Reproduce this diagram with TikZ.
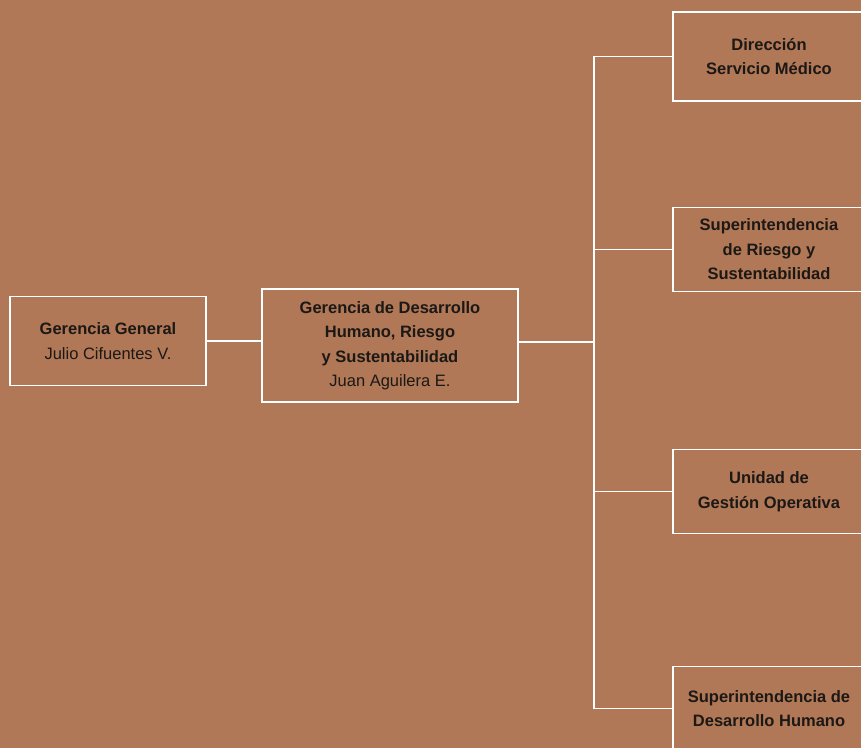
\documentclass[tikz,border=0pt]{standalone}
\usepackage{fontspec}
\setmainfont{Liberation Sans}
\usetikzlibrary{positioning}

\definecolor{bgbrown}{RGB}{176,120,86}
\definecolor{inkdark}{RGB}{28,24,22}

\begin{document}
\begin{tikzpicture}
      [
        x=1pt, y=-1pt,
        node distance = 0pt,
        OrgBox/.style={draw=white, line width=1.6pt, text=inkdark, align=center, inner sep=0pt,
          font=\fontsize{16.5}{24.5}\selectfont},
        SideBox/.style={OrgBox, minimum width=192pt, minimum height=84pt},
        Wire/.style={draw=white, line width=1.6pt},
      ]

      \fill [bgbrown] (0,0) rectangle (861,748);
      \useasboundingbox (0,0) rectangle (861,748);
      \clip (0,0) rectangle (861,748);

      \node [OrgBox, minimum width=196pt, minimum height=89pt] (gg) at (108,341)
        {\textbf{Gerencia General}\\Julio Cifuentes V.};
      \node [OrgBox, minimum width=256pt, minimum height=113pt] (gd) at (390,345.5)
        {\textbf{Gerencia de Desarrollo}\\\textbf{Humano, Riesgo}\\\textbf{y Sustentabilidad}\\Juan Aguilera E.};

      \coordinate (spine) at (594,342);

      \node [SideBox, minimum height=89pt] (dir) at (769,56.5) {\textbf{Dirección}\\\textbf{Servicio Médico}};
      \node [SideBox] (sup) at (769,249.5) {\textbf{Superintendencia}\\\textbf{de Riesgo y}\\\textbf{Sustentabilidad}};
      \node [SideBox] (uni) at (769,491.5) {\textbf{Unidad de}\\\textbf{Gestión Operativa}};
      \node [SideBox] (dh) at (769,708.5) {\textbf{Superintendencia de}\\\textbf{Desarrollo Humano}};

      \draw [Wire] (gg.east) -- (gg.east -| gd.west);
      \draw [Wire] (gd.east |- spine) -- (spine);
      \draw [Wire] (dir.west) -- (dir.west -| spine) -- (dh.west -| spine) -- (dh.west);
      \draw [Wire] (sup.west) -- (sup.west -| spine);
      \draw [Wire] (uni.west) -- (uni.west -| spine);
    \end{tikzpicture}
\end{document}
